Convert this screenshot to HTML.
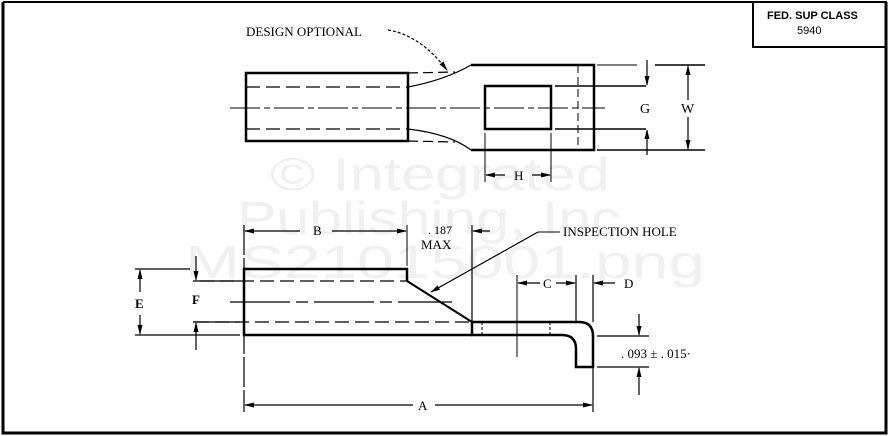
<!DOCTYPE html>
<html><head><style>
html,body{margin:0;padding:0;background:#fff;}
svg{display:block;}
text{font-family:"Liberation Serif",serif;fill:#000;}
</style></head><body>
<svg width="891" height="436" viewBox="0 0 891 436" xmlns="http://www.w3.org/2000/svg">
<defs>
<marker id="ar" markerWidth="10" markerHeight="6" refX="9" refY="3" orient="auto" markerUnits="userSpaceOnUse"><path d="M0,0.5 L10,3 L0,5.5 z" fill="#000"/></marker>
</defs>
<!-- watermark -->
<g font-size="46">
<text x="270" y="190" textLength="340" lengthAdjust="spacingAndGlyphs" style="fill:#f0f0f0;font-family:'Liberation Sans',sans-serif">© Integrated</text>
<text x="237" y="234" textLength="400" lengthAdjust="spacingAndGlyphs" style="fill:#f0f0f0;font-family:'Liberation Sans',sans-serif">Publishing, Inc.</text>
<text x="185" y="278" textLength="520" lengthAdjust="spacingAndGlyphs" style="fill:#f0f0f0;font-family:'Liberation Sans',sans-serif">MS21015001.png</text>
</g>
<!-- frame -->
<g stroke="#000" fill="none">
<path d="M3,2 V433 H886 V2" stroke-width="3"/>
<line x1="3" y1="2" x2="886" y2="2" stroke-width="2"/>
<rect x="753" y="2" width="133" height="45" stroke-width="2"/>
</g>
<text x="767" y="19" style="font-family:'Liberation Sans',sans-serif;font-weight:bold" font-size="11">FED. SUP CLASS</text>
<text x="797" y="34" style="font-family:'Liberation Sans',sans-serif" font-size="11">5940</text>

<!-- TOP VIEW -->
<g stroke="#000" fill="none">
<rect x="246" y="73" width="162" height="68" stroke-width="2.5"/>
<line x1="246" y1="87" x2="408" y2="87" stroke-width="1.2" stroke-dasharray="14,6"/>
<line x1="246" y1="129" x2="408" y2="129" stroke-width="1.2" stroke-dasharray="14,6"/>
<line x1="230" y1="108" x2="605" y2="108" stroke-width="1" stroke-dasharray="30,4,6,4"/>
<line x1="408" y1="73" x2="455" y2="72" stroke-width="1.2" stroke-dasharray="10,5"/>
<path d="M408,87 Q445,80 471,65" stroke-width="1.2"/>
<line x1="408" y1="141" x2="455" y2="142" stroke-width="1.2" stroke-dasharray="10,5"/>
<path d="M408,129 Q450,134 471,150" stroke-width="1.2"/>
<path d="M471,65 H594 V150 H471" stroke-width="2.5"/>
<line x1="578" y1="65" x2="578" y2="150" stroke-width="1" stroke-dasharray="8,4"/>
<rect x="485" y="86" width="66" height="43" stroke-width="2.5"/>
<line x1="597" y1="65" x2="637" y2="65" stroke-width="1"/>
<line x1="655" y1="65" x2="705" y2="65" stroke-width="1.5"/>
<line x1="555" y1="86" x2="646" y2="86" stroke-width="1.5"/>
<line x1="555" y1="129" x2="646" y2="129" stroke-width="1.5"/>
<line x1="597" y1="150" x2="705" y2="150" stroke-width="1.5"/>
<line x1="647" y1="60" x2="647" y2="85" stroke-width="1.2" marker-end="url(#ar)"/>
<line x1="647" y1="155" x2="647" y2="130" stroke-width="1.2" marker-end="url(#ar)"/>
<line x1="688" y1="100" x2="688" y2="66" stroke-width="1.2" marker-end="url(#ar)"/>
<line x1="688" y1="117" x2="688" y2="149" stroke-width="1.2" marker-end="url(#ar)"/>
<line x1="485" y1="133" x2="485" y2="182" stroke-width="1"/>
<line x1="551" y1="133" x2="551" y2="182" stroke-width="1"/>
<line x1="505" y1="175" x2="486" y2="175" stroke-width="1.2" marker-end="url(#ar)"/>
<line x1="532" y1="175" x2="550" y2="175" stroke-width="1.2" marker-end="url(#ar)"/>
<path d="M388,30 Q420,35 447,70" stroke-width="1.2" stroke-dasharray="3,2" marker-end="url(#ar)"/>
</g>
<text x="246" y="36" font-size="13">DESIGN OPTIONAL</text>
<text x="640" y="113" font-size="14">G</text>
<text x="681" y="113" font-size="14">W</text>
<text x="514" y="180" font-size="13">H</text>

<!-- BOTTOM VIEW -->
<g stroke="#000" fill="none">
<path d="M407,281 V269 H244 V335 H472" stroke-width="2.5"/>
<line x1="407" y1="281" x2="472" y2="322" stroke-width="2"/>
<line x1="200" y1="281" x2="407" y2="281" stroke-width="1.2" stroke-dasharray="14,6"/>
<line x1="195" y1="322" x2="472" y2="322" stroke-width="1.2" stroke-dasharray="14,6"/>
<line x1="230" y1="302" x2="452" y2="302" stroke-width="1.2" stroke-dasharray="60,6,12,6"/>
<path d="M472,322 H579 Q593,322 593,336 V367 H576 V349 Q576,335 562,335 H472 V322" stroke-width="2.5"/>
<line x1="482" y1="322" x2="482" y2="335" stroke-width="1" stroke-dasharray="3,2"/>
<line x1="550" y1="322" x2="550" y2="335" stroke-width="1" stroke-dasharray="3,2"/>
<line x1="472" y1="225" x2="472" y2="322" stroke-width="1.2"/>
<line x1="244" y1="225" x2="244" y2="412" stroke-width="1.2" stroke-dasharray="30,3"/>
<line x1="407" y1="225" x2="407" y2="266" stroke-width="1"/>
<line x1="300" y1="231" x2="245" y2="231" stroke-width="1.2" marker-end="url(#ar)"/>
<line x1="332" y1="231" x2="406" y2="231" stroke-width="1.2" marker-end="url(#ar)"/>
<line x1="490" y1="231" x2="473" y2="231" stroke-width="1.2" marker-end="url(#ar)"/>
<line x1="135" y1="269" x2="190" y2="269" stroke-width="1.2"/>
<line x1="135" y1="335" x2="240" y2="335" stroke-width="1.2"/>
<line x1="193" y1="281" x2="240" y2="281" stroke-width="1.2"/>
<line x1="193" y1="322" x2="240" y2="322" stroke-width="1.2"/>
<line x1="140" y1="292" x2="140" y2="270" stroke-width="1.2" marker-end="url(#ar)"/>
<line x1="140" y1="315" x2="140" y2="334" stroke-width="1.2" marker-end="url(#ar)"/>
<line x1="196" y1="256" x2="196" y2="280" stroke-width="1.2" marker-end="url(#ar)"/>
<line x1="196" y1="350" x2="196" y2="323" stroke-width="1.2" marker-end="url(#ar)"/>
<line x1="517" y1="275" x2="517" y2="357" stroke-width="1"/>
<line x1="576" y1="275" x2="576" y2="322" stroke-width="1.2"/>
<line x1="593" y1="275" x2="593" y2="322" stroke-width="1.2"/>
<line x1="593" y1="367" x2="593" y2="412" stroke-width="1.2"/>
<line x1="540" y1="283" x2="518" y2="283" stroke-width="1.2" marker-end="url(#ar)"/>
<line x1="556" y1="283" x2="575" y2="283" stroke-width="1.2" marker-end="url(#ar)"/>
<line x1="615" y1="283" x2="594" y2="283" stroke-width="1.2" marker-end="url(#ar)"/>
<line x1="597" y1="336" x2="649" y2="336" stroke-width="1.2"/>
<line x1="597" y1="367" x2="649" y2="367" stroke-width="1.2"/>
<line x1="639" y1="314" x2="639" y2="335" stroke-width="1.2" marker-end="url(#ar)"/>
<line x1="639" y1="395" x2="639" y2="368" stroke-width="1.2" marker-end="url(#ar)"/>
<line x1="413" y1="405" x2="245" y2="405" stroke-width="1.2" marker-end="url(#ar)"/>
<line x1="435" y1="405" x2="592" y2="405" stroke-width="1.2" marker-end="url(#ar)"/>
<line x1="560" y1="232" x2="538" y2="232" stroke-width="1"/>
<line x1="538" y1="232" x2="431" y2="292" stroke-width="1.2" marker-end="url(#ar)"/>
</g>
<text x="313" y="235" font-size="13">B</text>
<text x="428" y="234" font-size="12">. 187</text>
<text x="421" y="249" font-size="13">MAX</text>
<text x="563" y="236" font-size="13">INSPECTION HOLE</text>
<text x="135" y="308" font-size="13" font-weight="bold">E</text>
<text x="192" y="304" font-size="13" font-weight="bold">F</text>
<text x="543" y="288" font-size="13">C</text>
<text x="624" y="288" font-size="13">D</text>
<text x="621" y="358" font-size="13">. 093 ± . 015·</text>
<text x="418" y="410" font-size="13">A</text>
</svg>
</body></html>
